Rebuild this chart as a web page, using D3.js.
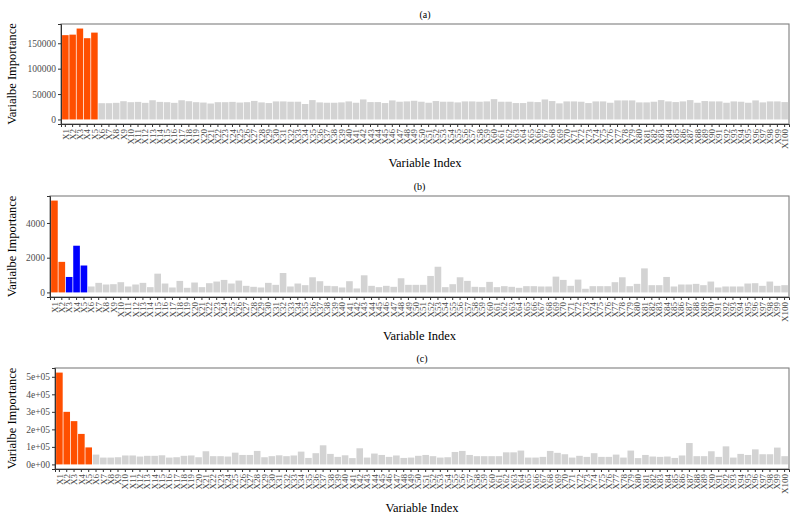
<!DOCTYPE html>
<html>
<head>
<meta charset="utf-8">
<script src="https://cdn.jsdelivr.net/npm/d3@7"></script>
<style>
  body { margin: 0; background: #fff; }
  svg { display: block; font-family: "Liberation Serif", "Times New Roman", serif; }
</style>
</head>
<body>
<div id="chart"></div>
<script>
// variable names X1..X100
const variables = d3.range(1, 101).map(i => "X" + i);

// panel (a)
const importanceA = [
  166000, 167000, 179000, 160000, 171000,
  32000, 32000, 32700, 35900, 34000, 34600, 32700, 37800, 34600, 34000,
  32700, 37800, 35900, 34000, 33300, 31400, 34000, 34000, 34600, 33300, 34000, 36500,
  33600, 32300, 35500, 35500, 34900, 34900, 30400, 38100, 33600, 32900,
  32900, 33600, 35500, 32900, 39400, 34200, 34200, 32300, 37500, 34900,
  35500, 36800, 34900, 32900, 36200, 34900, 34900, 33600, 35500, 35500,
  34900, 35500, 40000, 34900, 34900, 32300, 32300, 34900,
  34200, 39400, 36200, 31700, 35500, 35500, 34900, 32300, 35500, 35500,
  32900, 37500, 37500, 37500, 33600, 33600, 34900, 38100, 35500, 34200,
  35500, 38100, 32900, 36200, 35500, 35500, 32900, 35500, 34900, 32900,
  37500, 33600, 35500, 35500, 34200
];
const groupsA = ["hi", "hi", "hi", "hi", "hi"];
const ticksA = [0, 50000, 100000, 150000];

// panel (b)
const importanceB = [
  5290, 1760, 890, 2690, 1550,
  341, 550, 455, 474, 588, 341, 455, 550, 303, 1080, 512, 284, 663, 265, 569,
  303, 531, 626, 720, 512, 682, 379, 322,
  284, 550, 436, 1118, 341, 512, 417, 872, 645, 379, 360, 284, 645, 227, 986,
  379, 303, 379, 322, 815, 436, 436, 436, 948, 1479, 303, 474, 872, 664, 322,
  303, 607, 303, 360, 322, 265, 360, 360,
  341, 341, 910, 720, 379, 739, 209, 360, 360, 360, 588, 872, 360, 493, 1384,
  417, 417, 891, 341, 455, 455, 493, 417, 626, 284, 341, 341, 341, 512, 531,
  379, 626, 379, 417
];
const groupsB = ["hi", "hi", "mid", "mid", "mid"];
const ticksB = [0, 2000, 4000];

// panel (c)
const importanceC = [
  524000, 300000, 247000, 174000, 97000,
  56000, 39000, 39000, 41000, 51000, 51000, 45000, 49000, 49000, 52000, 39000,
  41000, 49000, 51000, 41000, 75000, 47000, 47000, 45000, 67000, 54000, 54000, 77000,
  41000, 47000, 52000, 47000, 51000, 73000, 37000, 64000, 109000, 60000, 43000,
  52000, 36000, 92000, 39000, 62000, 54000, 43000, 51000, 37000, 39000, 49000,
  54000, 47000, 39000, 41000, 71000, 77000, 54000, 47000, 47000, 47000, 47000,
  69000, 69000, 79000, 39000, 39000,
  43000, 77000, 66000, 58000, 39000, 49000, 43000, 64000, 43000, 43000, 56000,
  39000, 79000, 36000, 54000, 45000, 43000, 45000, 37000, 51000, 122000, 47000,
  47000, 75000, 43000, 103000, 39000, 60000, 54000, 86000, 58000, 58000, 96000, 47000
];
const groupsC = ["hi", "hi", "hi", "hi", "hi"];
const ticksC = [0, 100000, 200000, 300000, 400000, 500000];

const colors = {hi: "#FF4F00", mid: "#0000FF", other: "#D3D3D3"};

const width = 800, height = 519;
const svg = d3.select("#chart").append("svg")
  .attr("width", width)
  .attr("height", height);

// R-style scientific labels, e.g. 3e+05
function sciFormat(d) {
  if (d === 0) return "0e+00";
  const s = d3.format(".0e")(d);
  const [m, e] = s.split("e");
  const sign = e[0];
  const digits = e.slice(1).padStart(2, "0");
  return m + "e" + sign + digits;
}

function drawPanel(opts) {
  const {title, values, groups, ticks, fmt, top, bottom, left} = opts;
  const right = 789;

  const g = svg.append("g");

  const x = d3.scaleBand()
    .domain(variables)
    .range([left, right])
    .paddingInner(0.1)
    .paddingOuter(0.15);

  const maxV = d3.max(values);
  const y = d3.scaleLinear()
    .domain([-0.05 * maxV, 1.05 * maxV])
    .range([bottom, top]);

  // bars
  g.selectAll("rect.bar")
    .data(values)
    .join("rect")
    .attr("class", "bar")
    .attr("x", (d, i) => x(variables[i]))
    .attr("width", x.bandwidth())
    .attr("y", d => y(d))
    .attr("height", d => y(0) - y(d))
    .attr("fill", (d, i) => colors[groups[i] || "other"]);

  // panel border
  g.append("rect")
    .attr("x", left)
    .attr("y", top)
    .attr("width", right - left)
    .attr("height", bottom - top)
    .attr("fill", "none")
    .attr("stroke", "#7f7f7f")
    .attr("stroke-width", 1.1);

  // y axis
  const yAxis = g.append("g")
    .attr("transform", `translate(${left},0)`)
    .call(d3.axisLeft(y).tickValues(ticks).tickFormat(fmt).tickSize(3).tickPadding(2));
  yAxis.select(".domain").attr("stroke", "#333");
  yAxis.selectAll(".tick line").attr("stroke", "#333");
  yAxis.selectAll("text")
    .attr("fill", "#4d4d4d")
    .style("font-size", "9.5px")
    .style("font-family", "Liberation Serif, serif");

  // x axis
  const xAxis = g.append("g")
    .attr("transform", `translate(0,${bottom})`)
    .call(d3.axisBottom(x).tickSize(3).tickPadding(2));
  xAxis.select(".domain").attr("stroke", "#333");
  xAxis.selectAll(".tick line").attr("stroke", "#333");
  xAxis.selectAll("text")
    .attr("fill", "#4d4d4d")
    .style("font-size", "9px")
    .style("font-family", "Liberation Serif, serif")
    .attr("transform", "rotate(-90)")
    .attr("text-anchor", "end")
    .attr("x", -5)
    .attr("y", 0)
    .attr("dy", "0.35em");

  // titles
  const cx = (left + right) / 2;
  g.append("text")
    .attr("x", cx)
    .attr("y", top - 6)
    .attr("text-anchor", "middle")
    .style("font-size", "10px")
    .text(title);

  g.append("text")
    .attr("x", cx)
    .attr("y", bottom + 43)
    .attr("text-anchor", "middle")
    .style("font-size", "12.5px")
    .text("Variable Index");

  g.append("text")
    .attr("transform", `translate(16,${(top + bottom) / 2}) rotate(-90)`)
    .attr("text-anchor", "middle")
    .style("font-size", "12.5px")
    .text("Varialbe Importance");
}

drawPanel({title: "(a)", values: importanceA, groups: groupsA, ticks: ticksA,
  fmt: d3.format("d"), top: 24, bottom: 124, left: 61});
drawPanel({title: "(b)", values: importanceB, groups: groupsB, ticks: ticksB,
  fmt: d3.format("d"), top: 196, bottom: 297, left: 50});
drawPanel({title: "(c)", values: importanceC, groups: groupsC, ticks: ticksC,
  fmt: sciFormat, top: 368, bottom: 469, left: 55});
</script>
</body>
</html>
